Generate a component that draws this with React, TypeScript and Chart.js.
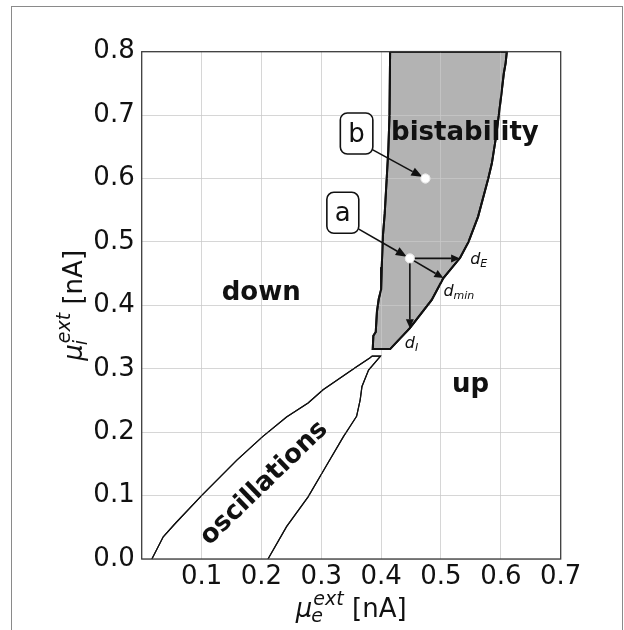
import React, { useEffect, useRef } from 'react';
import { Chart, registerables } from 'chart.js';

Chart.register(...registerables);

// ---------- data ----------
const xRange = [0, 0.7];
const yRange = [0, 0.8];
const xTickValues = [0.1, 0.2, 0.3, 0.4, 0.5, 0.6, 0.7];
const xTickLabels = ['0.1', '0.2', '0.3', '0.4', '0.5', '0.6', '0.7'];
const yTickValues = [0.0, 0.1, 0.2, 0.3, 0.4, 0.5, 0.6, 0.7, 0.8];
const yTickLabels = ['0.0', '0.1', '0.2', '0.3', '0.4', '0.5', '0.6', '0.7', '0.8'];

// bistability region outline (mu_e, mu_i)
const bistabilityE = [0.415, 0.414, 0.412, 0.409, 0.406, 0.403, 0.401, 0.400, 0.396, 0.393, 0.391, 0.387, 0.386,
  0.415, 0.448, 0.4845, 0.504, 0.532, 0.546, 0.562, 0.579, 0.585, 0.592, 0.597, 0.601, 0.605, 0.608, 0.610, 0.415];
const bistabilityI = [0.800, 0.700, 0.645, 0.595, 0.545, 0.510, 0.460, 0.425, 0.410, 0.390, 0.358, 0.352, 0.331,
  0.331, 0.364, 0.4085, 0.443, 0.475, 0.500, 0.540, 0.600, 0.624, 0.666, 0.703, 0.734, 0.766, 0.782, 0.800, 0.800];

// oscillations region outline
const oscillationE = [0.017, 0.036, 0.056, 0.100, 0.159, 0.202, 0.242, 0.278, 0.303, 0.331, 0.359, 0.381, 0.385, 0.399,
  0.379, 0.368, 0.365, 0.359, 0.348, 0.337, 0.306, 0.278, 0.242, 0.211];
const oscillationI = [0.000, 0.035, 0.056, 0.100, 0.156, 0.193, 0.224, 0.246, 0.267, 0.285, 0.303, 0.317, 0.320, 0.320,
  0.298, 0.272, 0.251, 0.225, 0.209, 0.193, 0.143, 0.098, 0.051, 0.000];

// marked points a and b
const pointNames = ['a', 'b'];
const pointE = [0.448, 0.474];
const pointI = [0.474, 0.600];
// annotation box centres for a and b
const boxE = [0.336, 0.359];
const boxI = [0.546, 0.671];

// distance arrows from point a
const distLabels = ['E', 'min', 'I'];
const distE = [0.532, 0.504, 0.448];
const distI = [0.474, 0.443, 0.364];

// region labels
const regionNames = ['down', 'up', 'bistability', 'oscillations'];
const regionE = [0.1996, 0.5493, 0.540, 0.201];
const regionI = [0.4243, 0.2697, 0.6714, 0.123];
const regionAngle = [0, 0, 0, -44];

// axis titles
const axisSymbol = 'μ';
const axisSup = 'ext';
const xAxisSub = 'e';
const yAxisSub = 'i';
const axisUnit = ' [nA]';

// ---------- style ----------
const FONT = "'DejaVu Sans', 'Liberation Sans', sans-serif";
const GRID = 'rgba(200,200,200,0.75)';
const INK = '#111111';

function drawArrow(ctx: CanvasRenderingContext2D, x0: number, y0: number, x1: number, y1: number, lw = 1.6, hl = 10, hw = 4) {
  const ang = Math.atan2(y1 - y0, x1 - x0);
  const bx = x1 - hl * Math.cos(ang);
  const by = y1 - hl * Math.sin(ang);
  ctx.save();
  ctx.strokeStyle = INK;
  ctx.fillStyle = INK;
  ctx.lineWidth = lw;
  ctx.beginPath();
  ctx.moveTo(x0, y0);
  ctx.lineTo(bx, by);
  ctx.stroke();
  ctx.beginPath();
  ctx.moveTo(x1, y1);
  ctx.lineTo(bx + hw * Math.sin(ang), by - hw * Math.cos(ang));
  ctx.lineTo(bx - hw * Math.sin(ang), by + hw * Math.cos(ang));
  ctx.closePath();
  ctx.fill();
  ctx.restore();
}

function drawAxisLabel(ctx: CanvasRenderingContext2D, tx: number, ty: number, sub: string, rotate: boolean) {
  ctx.save();
  ctx.translate(tx, ty);
  if (rotate) ctx.rotate(-Math.PI / 2);
  ctx.fillStyle = INK;
  ctx.textBaseline = 'alphabetic';
  ctx.textAlign = 'left';
  const big = `26px ${FONT}`;
  const bigIt = `italic 26px ${FONT}`;
  const smIt = `italic 19px ${FONT}`;
  ctx.font = bigIt;
  const wMu = ctx.measureText(axisSymbol).width;
  ctx.font = smIt;
  const wSup = ctx.measureText(axisSup).width;
  const wSub = ctx.measureText(sub).width;
  ctx.font = big;
  const wRest = ctx.measureText(axisUnit).width;
  const scriptW = Math.max(wSup + 1, wSub);
  const total = wMu + scriptW + wRest;
  let x = -total / 2;
  ctx.font = bigIt;
  ctx.fillText(axisSymbol, x, 0);
  x += wMu;
  ctx.font = smIt;
  ctx.fillText(axisSup, x + 1, -12);
  ctx.fillText(sub, x - 1, 5);
  x += scriptW;
  ctx.font = big;
  ctx.fillText(axisUnit, x, 0);
  ctx.restore();
}

function drawCenteredText(ctx: CanvasRenderingContext2D, text: string, cx: number, cy: number, font: string, angleDeg: number) {
  ctx.save();
  ctx.translate(cx, cy);
  ctx.rotate((angleDeg * Math.PI) / 180);
  ctx.font = font;
  ctx.fillStyle = INK;
  ctx.textAlign = 'center';
  ctx.textBaseline = 'alphabetic';
  const m = ctx.measureText(text);
  const asc = m.actualBoundingBoxAscent;
  const desc = m.actualBoundingBoxDescent;
  ctx.fillText(text, 0, (asc - desc) / 2);
  ctx.restore();
}

const overlayPlugin = {
  id: 'overlay',
  afterDraw(chart: any) {
    const ctx: CanvasRenderingContext2D = chart.ctx;
    const area = chart.chartArea;
    const xs = chart.scales.x;
    const ys = chart.scales.y;
    const px = (v: number) => xs.getPixelForValue(v);
    const py = (v: number) => ys.getPixelForValue(v);

    // re-stroke region outlines above the grid
    ctx.save();
    ctx.beginPath();
    ctx.rect(area.left - 1, area.top - 1, area.right - area.left + 2, area.bottom - area.top + 2);
    ctx.clip();
    [1, 2].forEach((i) => {
      const meta = chart.getDatasetMeta(i);
      if (meta && meta.dataset) meta.dataset.draw(ctx, area);
    });
    ctx.restore();

    // spines
    ctx.save();
    ctx.strokeStyle = '#3c3c3c';
    ctx.lineWidth = 1.3;
    ctx.strokeRect(area.left, area.top, area.right - area.left, area.bottom - area.top);
    ctx.restore();

    // distance arrows from a
    const ax = px(pointE[0]);
    const ay = py(pointI[0]);
    const labelOffsets = [[10, 6], [0, 18], [-5, 20]];
    distLabels.forEach((lab, i) => {
      const tx = px(distE[i]);
      const ty = py(distI[i]);
      drawArrow(ctx, ax, ay, tx, ty, 1.6, 9, 4);
      const lx = tx + labelOffsets[i][0];
      const ly = ty + labelOffsets[i][1];
      ctx.save();
      ctx.fillStyle = INK;
      ctx.textAlign = 'left';
      ctx.textBaseline = 'alphabetic';
      ctx.font = `italic 16px ${FONT}`;
      ctx.fillText('d', lx, ly);
      const wd = ctx.measureText('d').width;
      ctx.font = `italic 11px ${FONT}`;
      ctx.fillText(lab, lx + wd, ly + 3);
      ctx.restore();
    });

    // annotation boxes + arrows
    pointNames.forEach((name, i) => {
      const cx = px(boxE[i]);
      const cy = py(boxI[i]);
      ctx.save();
      ctx.font = `26px ${FONT}`;
      const tw = ctx.measureText(name).width;
      const bw = tw + 16;
      const bh = 41;
      const pxp = px(pointE[i]);
      const pyp = py(pointI[i]);
      const sx = cx + bw / 2;
      const sy = cy + bh * 0.4;
      const ang = Math.atan2(pyp - sy, pxp - sx);
      drawArrow(ctx, sx, sy, pxp - 3.5 * Math.cos(ang), pyp - 3.5 * Math.sin(ang), 1.6, 11, 4.5);
      ctx.beginPath();
      (ctx as any).roundRect(cx - bw / 2, cy - bh / 2, bw, bh, 7);
      ctx.fillStyle = '#ffffff';
      ctx.fill();
      ctx.lineWidth = 1.6;
      ctx.strokeStyle = INK;
      ctx.stroke();
      ctx.fillStyle = INK;
      ctx.textAlign = 'center';
      ctx.textBaseline = 'alphabetic';
      ctx.fillText(name, cx, cy + 8.5);
      ctx.restore();
    });

    // points on top
    const pm = chart.getDatasetMeta(0);
    if (pm) pm.data.forEach((el: any) => el.draw(ctx, area));

    // region labels
    regionNames.forEach((name, i) => {
      drawCenteredText(ctx, name, px(regionE[i]), py(regionI[i]), `bold 26px ${FONT}`, regionAngle[i]);
    });

    // axis titles
    drawAxisLabel(ctx, (area.left + area.right) / 2, 617, xAxisSub, false);
    drawAxisLabel(ctx, 82, (area.top + area.bottom) / 2, yAxisSub, true);

    // outer frame
    ctx.save();
    ctx.strokeStyle = '#8a8a8a';
    ctx.lineWidth = 1;
    ctx.strokeRect(11.5, 6.5, 611, 700);
    ctx.restore();
  },
};

export default function App() {
  const canvasRef = useRef<HTMLCanvasElement | null>(null);

  useEffect(() => {
    const canvas = canvasRef.current;
    if (!canvas) return;
    const bist = bistabilityE.map((x, i) => ({ x, y: bistabilityI[i] }));
    const osc = oscillationE.map((x, i) => ({ x, y: oscillationI[i] }));
    const pts = pointE.map((x, i) => ({ x, y: pointI[i] }));

    const chart = new Chart(canvas, {
      type: 'scatter',
      data: {
        datasets: [
          {
            data: pts,
            showLine: false,
            pointRadius: 4.5,
            pointBackgroundColor: '#ffffff',
            pointBorderColor: '#e8e8e8',
            pointBorderWidth: 1,
          },
          {
            data: osc,
            showLine: true,
            borderColor: INK,
            borderWidth: 1.2,
            pointRadius: 0,
            fill: false,
            tension: 0,
          },
          {
            data: bist,
            showLine: true,
            borderColor: INK,
            borderWidth: 2,
            backgroundColor: '#b3b3b3',
            pointRadius: 0,
            fill: 'shape',
            tension: 0,
          },
        ] as any,
      },
      options: {
        responsive: false,
        animation: false,
        devicePixelRatio: 1,
        events: [],
        layout: { padding: { left: 0, top: 51.7, right: 63.3, bottom: 0 } },
        plugins: { legend: { display: false }, tooltip: { enabled: false } },
        scales: {
          x: {
            type: 'linear',
            min: xRange[0],
            max: xRange[1],
            afterBuildTicks: (s: any) => {
              s.ticks = xTickValues.map((v) => ({ value: v }));
            },
            afterFit: (s: any) => {
              s.height = 71;
            },
            ticks: {
              autoSkip: false,
              maxRotation: 0,
              padding: 3,
              color: INK,
              font: { family: FONT, size: 26 },
              callback: (_v: any, i: number) => xTickLabels[i],
            },
            grid: { color: GRID, lineWidth: 1, drawTicks: false, z: 1 },
            border: { display: false },
          },
          y: {
            type: 'linear',
            min: yRange[0],
            max: yRange[1],
            afterBuildTicks: (s: any) => {
              s.ticks = yTickValues.map((v) => ({ value: v }));
            },
            afterFit: (s: any) => {
              s.width = 141.7;
            },
            ticks: {
              autoSkip: false,
              padding: 7,
              color: INK,
              font: { family: FONT, size: 26 },
              callback: (_v: any, i: number) => yTickLabels[i],
            },
            grid: { color: GRID, lineWidth: 1, drawTicks: false, z: 1 },
            border: { display: false },
          },
        },
      } as any,
      plugins: [overlayPlugin],
    });
    return () => chart.destroy();
  }, []);

  return (
    <div style={{ position: 'absolute', left: 0, top: 0, width: 624, height: 630, background: '#ffffff' }}>
      <canvas ref={canvasRef} width={624} height={630} style={{ display: 'block', width: 624, height: 630 }} />
    </div>
  );
}
